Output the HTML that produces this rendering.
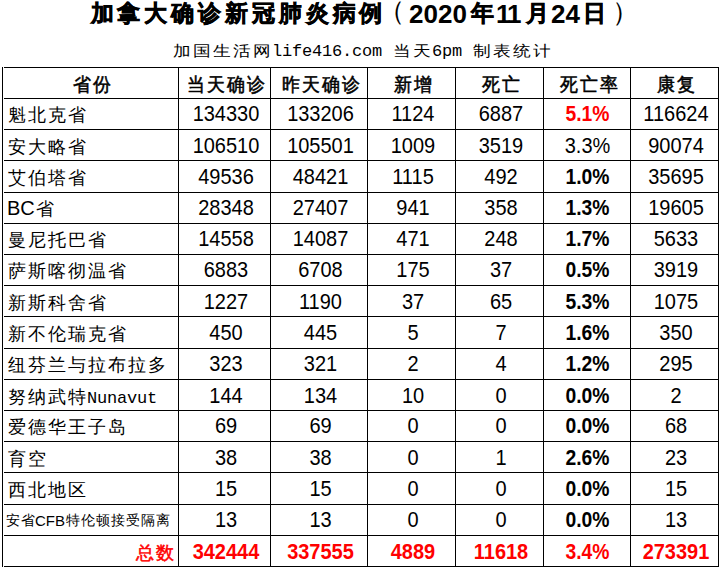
<!DOCTYPE html>
<html><head><meta charset="utf-8"><style>
html,body{margin:0;padding:0;background:#fff;}
body{width:720px;height:582px;position:relative;overflow:hidden;font-family:"Liberation Sans",sans-serif;color:#000;}
.h{position:absolute;height:1px;background:#000;}
.v{position:absolute;width:1px;background:#000;}
.c{position:absolute;white-space:nowrap;font-size:20px;line-height:20px;height:20px;text-align:center;}
.l{text-align:left;}
.r{text-align:right;}
.b{font-weight:bold;}
.red{color:#f00;}
i{font-style:normal;display:inline-block;text-align:center;}
.k{width:20px;font-size:18px;position:relative;top:0px;}
.b .k{font-weight:normal;font-size:17.5px;-webkit-text-stroke:0.5px #000;top:1px;}
.red .k{-webkit-text-stroke-color:#f00;}
.r.b .k{top:0px;}
.ks{width:15px;font-size:14px;position:relative;top:-1px;}
.mo{width:10px;font-family:"Liberation Mono",monospace;font-size:17px;}
.ts{position:absolute;white-space:nowrap;font-weight:bold;line-height:30px;top:-1px;}
.tk{top:-2px;font-size:23px;-webkit-text-stroke:0.6px #000;}
.td{font-size:26px;}
#s{position:absolute;left:172px;top:39px;white-space:nowrap;font-size:20px;line-height:20px;}
.sk{width:20px;font-size:16px;transform:scale(1.12,0.95);transform-origin:50% 70%;}
</style></head><body>
<div class="ts tk" style="left:90.5px;letter-spacing:3.9px">加拿大确诊新冠肺炎病例</div>
<div class="ts tk" style="left:378px;top:-4px;font-weight:normal;-webkit-text-stroke:0;font-size:27px">（</div>
<div class="ts td" style="left:409px">2020</div>
<div class="ts tk" style="left:471px">年</div>
<div class="ts td" style="left:496px;letter-spacing:-2px">11</div>
<div class="ts tk" style="left:525.5px">月</div>
<div class="ts td" style="left:551px">24</div>
<div class="ts tk" style="left:583px;font-size:23px;top:-2px">日</div>
<div class="ts tk" style="left:612px;top:-3px;font-weight:normal;-webkit-text-stroke:0;font-size:27px">）</div>
<div id="s"><i class="sk">加</i><i class="sk">国</i><i class="sk">生</i><i class="sk">活</i><i class="sk">网</i><i class="mo">l</i><i class="mo">i</i><i class="mo">f</i><i class="mo">e</i><i class="mo">4</i><i class="mo">1</i><i class="mo">6</i><i class="mo">.</i><i class="mo">c</i><i class="mo">o</i><i class="mo">m</i><i class="mo"> </i><i class="sk">当</i><i class="sk">天</i><i class="mo">6</i><i class="mo">p</i><i class="mo">m</i><i class="mo"> </i><i class="sk">制</i><i class="sk">表</i><i class="sk">统</i><i class="sk">计</i></div>
<div class="h" style="left:4px;top:67px;width:715px"></div>
<div class="h" style="left:4px;top:98px;width:715px"></div>
<div class="h" style="left:4px;top:129px;width:715px"></div>
<div class="h" style="left:4px;top:160px;width:715px"></div>
<div class="h" style="left:4px;top:192px;width:715px"></div>
<div class="h" style="left:4px;top:223px;width:715px"></div>
<div class="h" style="left:4px;top:254px;width:715px"></div>
<div class="h" style="left:4px;top:285px;width:715px"></div>
<div class="h" style="left:4px;top:316px;width:715px"></div>
<div class="h" style="left:4px;top:348px;width:715px"></div>
<div class="h" style="left:4px;top:379px;width:715px"></div>
<div class="h" style="left:4px;top:410px;width:715px"></div>
<div class="h" style="left:4px;top:441px;width:715px"></div>
<div class="h" style="left:4px;top:472px;width:715px"></div>
<div class="h" style="left:4px;top:504px;width:715px"></div>
<div class="h" style="left:4px;top:535px;width:715px"></div>
<div class="h" style="left:4px;top:566px;width:715px"></div>
<div class="v" style="left:2px;top:67px;height:500px"></div>
<div class="v" style="left:178px;top:67px;height:500px"></div>
<div class="v" style="left:270px;top:67px;height:500px"></div>
<div class="v" style="left:367px;top:67px;height:500px"></div>
<div class="v" style="left:455px;top:67px;height:500px"></div>
<div class="v" style="left:543px;top:67px;height:500px"></div>
<div class="v" style="left:630px;top:67px;height:500px"></div>
<div class="v" style="left:718px;top:67px;height:500px"></div>
<div class="c b" style="left:3px;top:73px;width:175px;transform:translateX(1.5px) scale(1.0,1.06);transform-origin:50% 17px;"><i class="k">省</i><i class="k">份</i></div>
<div class="c b" style="left:179px;top:73px;width:91px;transform:translateX(1.5px) scale(1.0,1.06);transform-origin:50% 17px;"><i class="k">当</i><i class="k">天</i><i class="k">确</i><i class="k">诊</i></div>
<div class="c b" style="left:271px;top:73px;width:96px;transform:translateX(1.5px) scale(1.0,1.06);transform-origin:50% 17px;"><i class="k">昨</i><i class="k">天</i><i class="k">确</i><i class="k">诊</i></div>
<div class="c b" style="left:368px;top:73px;width:87px;transform:translateX(1.5px) scale(1.0,1.06);transform-origin:50% 17px;"><i class="k">新</i><i class="k">增</i></div>
<div class="c b" style="left:456px;top:73px;width:87px;transform:translateX(1.5px) scale(1.0,1.06);transform-origin:50% 17px;"><i class="k">死</i><i class="k">亡</i></div>
<div class="c b" style="left:544px;top:73px;width:86px;transform:translateX(1.5px) scale(1.0,1.06);transform-origin:50% 17px;"><i class="k">死</i><i class="k">亡</i><i class="k">率</i></div>
<div class="c b" style="left:631px;top:73px;width:87px;transform:translateX(1.5px) scale(1.0,1.06);transform-origin:50% 17px;"><i class="k">康</i><i class="k">复</i></div>
<div class="c l" style="left:7px;top:104px;width:170px;"><i class="k">魁</i><i class="k">北</i><i class="k">克</i><i class="k">省</i></div>
<div class="c " style="left:179px;top:104px;width:91px;transform:translateX(1.5px) scale(1.0,1.06);transform-origin:50% 17px;">134330</div>
<div class="c " style="left:271px;top:104px;width:96px;transform:translateX(1.5px) scale(1.0,1.06);transform-origin:50% 17px;">133206</div>
<div class="c " style="left:368px;top:104px;width:87px;transform:translateX(1.5px) scale(1.0,1.06);transform-origin:50% 17px;">1124</div>
<div class="c " style="left:456px;top:104px;width:87px;transform:translateX(1.5px) scale(1.0,1.06);transform-origin:50% 17px;">6887</div>
<div class="c b red" style="left:544px;top:104px;width:86px;transform:translateX(0.5px) scale(0.965,1.06);transform-origin:50% 17px;">5.1%</div>
<div class="c " style="left:631px;top:104px;width:87px;transform:translateX(1.5px) scale(1.0,1.06);transform-origin:50% 17px;">116624</div>
<div class="c l" style="left:7px;top:136px;width:170px;"><i class="k">安</i><i class="k">大</i><i class="k">略</i><i class="k">省</i></div>
<div class="c " style="left:179px;top:136px;width:91px;transform:translateX(1.5px) scale(1.0,1.06);transform-origin:50% 17px;">106510</div>
<div class="c " style="left:271px;top:136px;width:96px;transform:translateX(1.5px) scale(1.0,1.06);transform-origin:50% 17px;">105501</div>
<div class="c " style="left:368px;top:136px;width:87px;transform:translateX(1.5px) scale(1.0,1.06);transform-origin:50% 17px;">1009</div>
<div class="c " style="left:456px;top:136px;width:87px;transform:translateX(1.5px) scale(1.0,1.06);transform-origin:50% 17px;">3519</div>
<div class="c " style="left:544px;top:136px;width:86px;transform:translateX(0.5px) scale(1.0,1.06);transform-origin:50% 17px;">3.3%</div>
<div class="c " style="left:631px;top:136px;width:87px;transform:translateX(1.5px) scale(1.0,1.06);transform-origin:50% 17px;">90074</div>
<div class="c l" style="left:7px;top:167px;width:170px;"><i class="k">艾</i><i class="k">伯</i><i class="k">塔</i><i class="k">省</i></div>
<div class="c " style="left:179px;top:167px;width:91px;transform:translateX(1.5px) scale(1.0,1.06);transform-origin:50% 17px;">49536</div>
<div class="c " style="left:271px;top:167px;width:96px;transform:translateX(1.5px) scale(1.0,1.06);transform-origin:50% 17px;">48421</div>
<div class="c " style="left:368px;top:167px;width:87px;transform:translateX(1.5px) scale(1.0,1.06);transform-origin:50% 17px;">1115</div>
<div class="c " style="left:456px;top:167px;width:87px;transform:translateX(1.5px) scale(1.0,1.06);transform-origin:50% 17px;">492</div>
<div class="c b" style="left:544px;top:167px;width:86px;transform:translateX(0.5px) scale(0.965,1.06);transform-origin:50% 17px;">1.0%</div>
<div class="c " style="left:631px;top:167px;width:87px;transform:translateX(1.5px) scale(1.0,1.06);transform-origin:50% 17px;">35695</div>
<div class="c l" style="left:7px;top:198px;width:170px;">BC<i class="k">省</i></div>
<div class="c " style="left:179px;top:198px;width:91px;transform:translateX(1.5px) scale(1.0,1.06);transform-origin:50% 17px;">28348</div>
<div class="c " style="left:271px;top:198px;width:96px;transform:translateX(1.5px) scale(1.0,1.06);transform-origin:50% 17px;">27407</div>
<div class="c " style="left:368px;top:198px;width:87px;transform:translateX(1.5px) scale(1.0,1.06);transform-origin:50% 17px;">941</div>
<div class="c " style="left:456px;top:198px;width:87px;transform:translateX(1.5px) scale(1.0,1.06);transform-origin:50% 17px;">358</div>
<div class="c b" style="left:544px;top:198px;width:86px;transform:translateX(0.5px) scale(0.965,1.06);transform-origin:50% 17px;">1.3%</div>
<div class="c " style="left:631px;top:198px;width:87px;transform:translateX(1.5px) scale(1.0,1.06);transform-origin:50% 17px;">19605</div>
<div class="c l" style="left:7px;top:229px;width:170px;"><i class="k">曼</i><i class="k">尼</i><i class="k">托</i><i class="k">巴</i><i class="k">省</i></div>
<div class="c " style="left:179px;top:229px;width:91px;transform:translateX(1.5px) scale(1.0,1.06);transform-origin:50% 17px;">14558</div>
<div class="c " style="left:271px;top:229px;width:96px;transform:translateX(1.5px) scale(1.0,1.06);transform-origin:50% 17px;">14087</div>
<div class="c " style="left:368px;top:229px;width:87px;transform:translateX(1.5px) scale(1.0,1.06);transform-origin:50% 17px;">471</div>
<div class="c " style="left:456px;top:229px;width:87px;transform:translateX(1.5px) scale(1.0,1.06);transform-origin:50% 17px;">248</div>
<div class="c b" style="left:544px;top:229px;width:86px;transform:translateX(0.5px) scale(0.965,1.06);transform-origin:50% 17px;">1.7%</div>
<div class="c " style="left:631px;top:229px;width:87px;transform:translateX(1.5px) scale(1.0,1.06);transform-origin:50% 17px;">5633</div>
<div class="c l" style="left:7px;top:260px;width:170px;"><i class="k">萨</i><i class="k">斯</i><i class="k">喀</i><i class="k">彻</i><i class="k">温</i><i class="k">省</i></div>
<div class="c " style="left:179px;top:260px;width:91px;transform:translateX(1.5px) scale(1.0,1.06);transform-origin:50% 17px;">6883</div>
<div class="c " style="left:271px;top:260px;width:96px;transform:translateX(1.5px) scale(1.0,1.06);transform-origin:50% 17px;">6708</div>
<div class="c " style="left:368px;top:260px;width:87px;transform:translateX(1.5px) scale(1.0,1.06);transform-origin:50% 17px;">175</div>
<div class="c " style="left:456px;top:260px;width:87px;transform:translateX(1.5px) scale(1.0,1.06);transform-origin:50% 17px;">37</div>
<div class="c b" style="left:544px;top:260px;width:86px;transform:translateX(0.5px) scale(0.965,1.06);transform-origin:50% 17px;">0.5%</div>
<div class="c " style="left:631px;top:260px;width:87px;transform:translateX(1.5px) scale(1.0,1.06);transform-origin:50% 17px;">3919</div>
<div class="c l" style="left:7px;top:292px;width:170px;"><i class="k">新</i><i class="k">斯</i><i class="k">科</i><i class="k">舍</i><i class="k">省</i></div>
<div class="c " style="left:179px;top:292px;width:91px;transform:translateX(1.5px) scale(1.0,1.06);transform-origin:50% 17px;">1227</div>
<div class="c " style="left:271px;top:292px;width:96px;transform:translateX(1.5px) scale(1.0,1.06);transform-origin:50% 17px;">1190</div>
<div class="c " style="left:368px;top:292px;width:87px;transform:translateX(1.5px) scale(1.0,1.06);transform-origin:50% 17px;">37</div>
<div class="c " style="left:456px;top:292px;width:87px;transform:translateX(1.5px) scale(1.0,1.06);transform-origin:50% 17px;">65</div>
<div class="c b" style="left:544px;top:292px;width:86px;transform:translateX(0.5px) scale(0.965,1.06);transform-origin:50% 17px;">5.3%</div>
<div class="c " style="left:631px;top:292px;width:87px;transform:translateX(1.5px) scale(1.0,1.06);transform-origin:50% 17px;">1075</div>
<div class="c l" style="left:7px;top:323px;width:170px;"><i class="k">新</i><i class="k">不</i><i class="k">伦</i><i class="k">瑞</i><i class="k">克</i><i class="k">省</i></div>
<div class="c " style="left:179px;top:323px;width:91px;transform:translateX(1.5px) scale(1.0,1.06);transform-origin:50% 17px;">450</div>
<div class="c " style="left:271px;top:323px;width:96px;transform:translateX(1.5px) scale(1.0,1.06);transform-origin:50% 17px;">445</div>
<div class="c " style="left:368px;top:323px;width:87px;transform:translateX(1.5px) scale(1.0,1.06);transform-origin:50% 17px;">5</div>
<div class="c " style="left:456px;top:323px;width:87px;transform:translateX(1.5px) scale(1.0,1.06);transform-origin:50% 17px;">7</div>
<div class="c b" style="left:544px;top:323px;width:86px;transform:translateX(0.5px) scale(0.965,1.06);transform-origin:50% 17px;">1.6%</div>
<div class="c " style="left:631px;top:323px;width:87px;transform:translateX(1.5px) scale(1.0,1.06);transform-origin:50% 17px;">350</div>
<div class="c l" style="left:7px;top:354px;width:170px;"><i class="k">纽</i><i class="k">芬</i><i class="k">兰</i><i class="k">与</i><i class="k">拉</i><i class="k">布</i><i class="k">拉</i><i class="k">多</i></div>
<div class="c " style="left:179px;top:354px;width:91px;transform:translateX(1.5px) scale(1.0,1.06);transform-origin:50% 17px;">323</div>
<div class="c " style="left:271px;top:354px;width:96px;transform:translateX(1.5px) scale(1.0,1.06);transform-origin:50% 17px;">321</div>
<div class="c " style="left:368px;top:354px;width:87px;transform:translateX(1.5px) scale(1.0,1.06);transform-origin:50% 17px;">2</div>
<div class="c " style="left:456px;top:354px;width:87px;transform:translateX(1.5px) scale(1.0,1.06);transform-origin:50% 17px;">4</div>
<div class="c b" style="left:544px;top:354px;width:86px;transform:translateX(0.5px) scale(0.965,1.06);transform-origin:50% 17px;">1.2%</div>
<div class="c " style="left:631px;top:354px;width:87px;transform:translateX(1.5px) scale(1.0,1.06);transform-origin:50% 17px;">295</div>
<div class="c l" style="left:7px;top:386px;width:170px;"><i class="k">努</i><i class="k">纳</i><i class="k">武</i><i class="k">特</i><i class="mo">N</i><i class="mo">u</i><i class="mo">n</i><i class="mo">a</i><i class="mo">v</i><i class="mo">u</i><i class="mo">t</i></div>
<div class="c " style="left:179px;top:386px;width:91px;transform:translateX(1.5px) scale(1.0,1.06);transform-origin:50% 17px;">144</div>
<div class="c " style="left:271px;top:386px;width:96px;transform:translateX(1.5px) scale(1.0,1.06);transform-origin:50% 17px;">134</div>
<div class="c " style="left:368px;top:386px;width:87px;transform:translateX(1.5px) scale(1.0,1.06);transform-origin:50% 17px;">10</div>
<div class="c " style="left:456px;top:386px;width:87px;transform:translateX(1.5px) scale(1.0,1.06);transform-origin:50% 17px;">0</div>
<div class="c b" style="left:544px;top:386px;width:86px;transform:translateX(0.5px) scale(0.965,1.06);transform-origin:50% 17px;">0.0%</div>
<div class="c " style="left:631px;top:386px;width:87px;transform:translateX(1.5px) scale(1.0,1.06);transform-origin:50% 17px;">2</div>
<div class="c l" style="left:7px;top:416px;width:170px;"><i class="k">爱</i><i class="k">德</i><i class="k">华</i><i class="k">王</i><i class="k">子</i><i class="k">岛</i></div>
<div class="c " style="left:179px;top:416px;width:91px;transform:translateX(1.5px) scale(1.0,1.06);transform-origin:50% 17px;">69</div>
<div class="c " style="left:271px;top:416px;width:96px;transform:translateX(1.5px) scale(1.0,1.06);transform-origin:50% 17px;">69</div>
<div class="c " style="left:368px;top:416px;width:87px;transform:translateX(1.5px) scale(1.0,1.06);transform-origin:50% 17px;">0</div>
<div class="c " style="left:456px;top:416px;width:87px;transform:translateX(1.5px) scale(1.0,1.06);transform-origin:50% 17px;">0</div>
<div class="c b" style="left:544px;top:416px;width:86px;transform:translateX(0.5px) scale(0.965,1.06);transform-origin:50% 17px;">0.0%</div>
<div class="c " style="left:631px;top:416px;width:87px;transform:translateX(1.5px) scale(1.0,1.06);transform-origin:50% 17px;">68</div>
<div class="c l" style="left:7px;top:448px;width:170px;"><i class="k">育</i><i class="k">空</i></div>
<div class="c " style="left:179px;top:448px;width:91px;transform:translateX(1.5px) scale(1.0,1.06);transform-origin:50% 17px;">38</div>
<div class="c " style="left:271px;top:448px;width:96px;transform:translateX(1.5px) scale(1.0,1.06);transform-origin:50% 17px;">38</div>
<div class="c " style="left:368px;top:448px;width:87px;transform:translateX(1.5px) scale(1.0,1.06);transform-origin:50% 17px;">0</div>
<div class="c " style="left:456px;top:448px;width:87px;transform:translateX(1.5px) scale(1.0,1.06);transform-origin:50% 17px;">1</div>
<div class="c b" style="left:544px;top:448px;width:86px;transform:translateX(0.5px) scale(0.965,1.06);transform-origin:50% 17px;">2.6%</div>
<div class="c " style="left:631px;top:448px;width:87px;transform:translateX(1.5px) scale(1.0,1.06);transform-origin:50% 17px;">23</div>
<div class="c l" style="left:7px;top:479px;width:170px;"><i class="k">西</i><i class="k">北</i><i class="k">地</i><i class="k">区</i></div>
<div class="c " style="left:179px;top:479px;width:91px;transform:translateX(1.5px) scale(1.0,1.06);transform-origin:50% 17px;">15</div>
<div class="c " style="left:271px;top:479px;width:96px;transform:translateX(1.5px) scale(1.0,1.06);transform-origin:50% 17px;">15</div>
<div class="c " style="left:368px;top:479px;width:87px;transform:translateX(1.5px) scale(1.0,1.06);transform-origin:50% 17px;">0</div>
<div class="c " style="left:456px;top:479px;width:87px;transform:translateX(1.5px) scale(1.0,1.06);transform-origin:50% 17px;">0</div>
<div class="c b" style="left:544px;top:479px;width:86px;transform:translateX(0.5px) scale(0.965,1.06);transform-origin:50% 17px;">0.0%</div>
<div class="c " style="left:631px;top:479px;width:87px;transform:translateX(1.5px) scale(1.0,1.06);transform-origin:50% 17px;">15</div>
<div class="c l" style="left:7px;top:510px;width:170px;"><span style="font-size:15px;position:relative;left:-2px;top:-1px"><i class="ks">安</i><i class="ks">省</i>CFB<i class="ks">特</i><i class="ks">伦</i><i class="ks">顿</i><i class="ks">接</i><i class="ks">受</i><i class="ks">隔</i><i class="ks">离</i></span></div>
<div class="c " style="left:179px;top:510px;width:91px;transform:translateX(1.5px) scale(1.0,1.06);transform-origin:50% 17px;">13</div>
<div class="c " style="left:271px;top:510px;width:96px;transform:translateX(1.5px) scale(1.0,1.06);transform-origin:50% 17px;">13</div>
<div class="c " style="left:368px;top:510px;width:87px;transform:translateX(1.5px) scale(1.0,1.06);transform-origin:50% 17px;">0</div>
<div class="c " style="left:456px;top:510px;width:87px;transform:translateX(1.5px) scale(1.0,1.06);transform-origin:50% 17px;">0</div>
<div class="c b" style="left:544px;top:510px;width:86px;transform:translateX(0.5px) scale(0.965,1.06);transform-origin:50% 17px;">0.0%</div>
<div class="c " style="left:631px;top:510px;width:87px;transform:translateX(1.5px) scale(1.0,1.06);transform-origin:50% 17px;">13</div>
<div class="c r b red" style="left:3px;top:542px;width:172px;"><i class="k">总</i><i class="k">数</i></div>
<div class="c b red" style="left:179px;top:542px;width:91px;transform:translateX(1.5px) scale(1.0,1.06);transform-origin:50% 17px;">342444</div>
<div class="c b red" style="left:271px;top:542px;width:96px;transform:translateX(1.5px) scale(1.0,1.06);transform-origin:50% 17px;">337555</div>
<div class="c b red" style="left:368px;top:542px;width:87px;transform:translateX(1.5px) scale(1.0,1.06);transform-origin:50% 17px;">4889</div>
<div class="c b red" style="left:456px;top:542px;width:87px;transform:translateX(1.5px) scale(1.0,1.06);transform-origin:50% 17px;">11618</div>
<div class="c b red" style="left:544px;top:542px;width:86px;transform:translateX(0.5px) scale(0.965,1.06);transform-origin:50% 17px;">3.4%</div>
<div class="c b red" style="left:631px;top:542px;width:87px;transform:translateX(1.5px) scale(1.0,1.06);transform-origin:50% 17px;">273391</div>
</body></html>
